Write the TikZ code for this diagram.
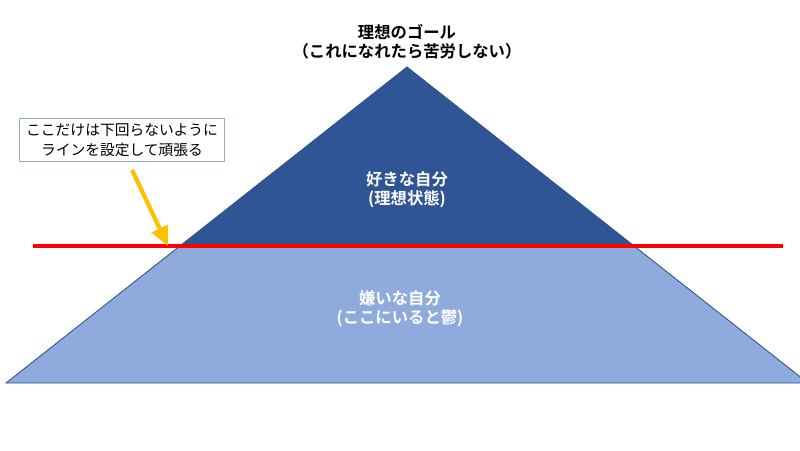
\documentclass[tikz,border=0pt]{standalone}
\usepackage{fontspec}
\newfontfamily\cjk{Noto Sans CJK JP}[BoldFont=Noto Sans CJK JP Bold]
\usetikzlibrary{arrows.meta}

\definecolor{darkblue}{HTML}{2F5597}
\definecolor{lightblue}{HTML}{8FAADC}
\definecolor{edgeblue}{HTML}{2F528F}
\definecolor{gold}{HTML}{FFC000}

\begin{document}
\begin{tikzpicture}[x=0.02cm,y=-0.02cm,
    label/.style={font=\cjk\bfseries\fontsize{9.3}{11}\selectfont, align=center},
    note/.style={draw=lightblue, fill=white, font=\cjk\fontsize{8.4}{11.5}\selectfont,
        align=center, inner xsep=4pt, inner ysep=3pt, line width=0.6pt}]

    \useasboundingbox (0,0) rectangle (800,450);
    \clip (0,0) rectangle (800,450);

    % these are the two parts of the pyramid
    \fill[lightblue] (6,383) -- (180,246) -- (634,246) -- (808,383) -- cycle;
    \fill[darkblue] (180,246) -- (407,67) -- (634,246) -- cycle;
    \draw[edgeblue, line width=0.5pt] (6,383) -- (407,67) -- (808,383) -- cycle;

    % the line
    \coordinate (lineL) at (33,246);
    \coordinate (lineR) at (783,246);
    \draw[red, line width=2.3pt] (lineL) -- (lineR);

    % texts
    \node[label] (goal) at (407,42) {理想のゴール\\（これになれたら苦労しない）};
    \node[label, text=white] (like) at (407,190) {好きな自分\\(理想状態)};
    \node[label, text=white] (hate) at (400,309) {嫌いな自分\\(ここにいると鬱)};

    % the note and its arrow
    \node[note] (memo) at (122,140) {ここだけは下回らないように\\ラインを設定して頑張る};
    \coordinate (tail) at (132,170);
    \coordinate (tip) at (168,246);
    \draw[gold, line width=2.4pt, -{Triangle[length=11pt,width=10pt]}] (tail) -- (tip);

\end{tikzpicture}
\end{document}
